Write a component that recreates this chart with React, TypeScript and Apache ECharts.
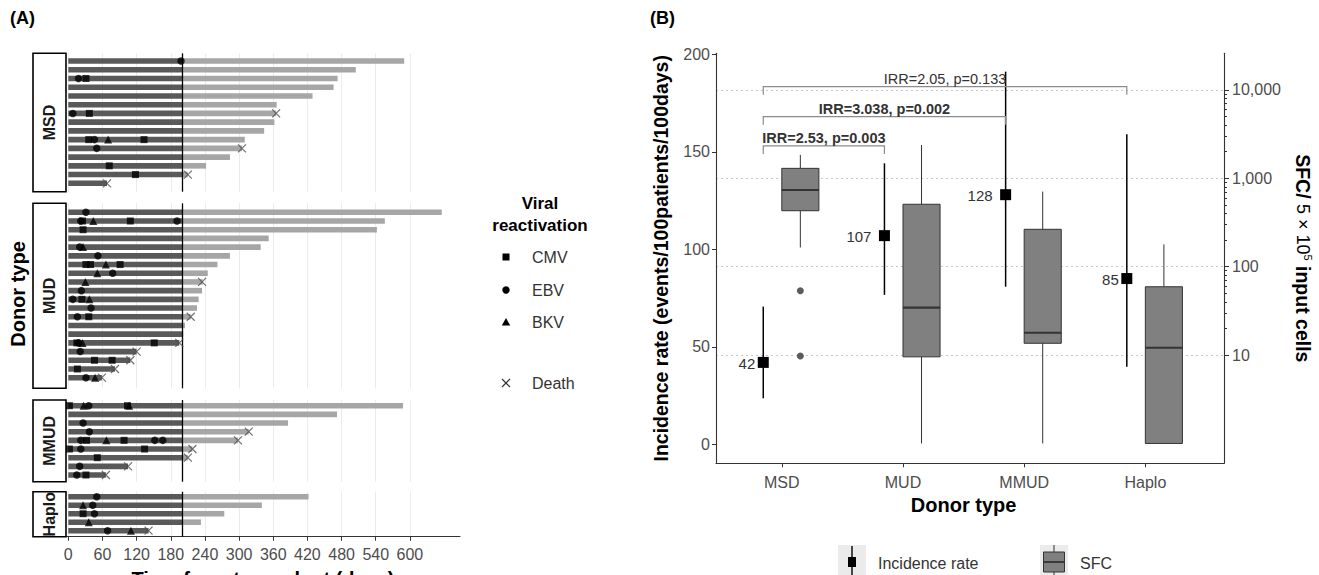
import React, { useEffect, useRef } from 'react';
import * as echarts from 'echarts';

const FONT = 'Arial, "Liberation Sans", Helvetica, sans-serif';

// ---------------- Panel A data ----------------
const donorTypes = ['MSD', 'MUD', 'MMUD', 'Haplo'];
const landmarkDay = 200;
const timeTicks = [0, 60, 120, 180, 240, 300, 360, 420, 480, 540, 600];

// follow-up (days) per patient, rows from top to bottom
const msdFollowUp = [590, 505, 473, 466, 429, 366, 365, 362, 344, 310, 305, 284, 242, 210, 68];
// events as [day, row]
const msdCMV = [[31, 2], [37, 6], [36, 9], [133, 9], [72, 12], [118, 13]];
const msdEBV = [[198, 0], [18, 2], [8, 6], [46, 9], [50, 10]];
const msdBKV = [[70, 9]];
const msdDeath = [[365, 6], [305, 10], [210, 13], [68, 14]];

const mudFollowUp = [656, 556, 542, 352, 338, 284, 262, 245, 236, 235, 229, 226, 215, 205, 202, 195, 120, 109, 82, 59];
const mudCMV = [[25, 1], [109, 1], [26, 2], [31, 6], [39, 6], [91, 6], [24, 10], [36, 12], [15, 15], [151, 15], [46, 17], [77, 17], [16, 18]];
const mudEBV = [[31, 0], [22, 1], [191, 1], [20, 4], [52, 5], [78, 7], [23, 9], [8, 10], [40, 11], [16, 12], [18, 15], [21, 16], [31, 19]];
const mudBKV = [[44, 1], [26, 4], [66, 6], [51, 7], [30, 8], [37, 10], [25, 15], [47, 19]];
const mudDeath = [[235, 8], [215, 12], [195, 15], [120, 16], [109, 17], [82, 18], [59, 19]];

const mmudFollowUp = [588, 472, 386, 317, 298, 218, 210, 105, 66];
const mmudCMV = [[2, 0], [104, 0], [32, 4], [98, 4], [2, 5], [134, 5], [51, 6], [31, 8]];
const mmudEBV = [[36, 0], [26, 2], [37, 3], [22, 4], [152, 4], [166, 4], [22, 5], [20, 7], [15, 8]];
const mmudBKV = [[27, 0], [107, 0], [67, 4]];
const mmudDeath = [[317, 3], [298, 4], [218, 5], [210, 6], [105, 7], [66, 8]];

const haploFollowUp = [422, 340, 274, 233, 141];
const haploCMV = [[26, 2]];
const haploEBV = [[50, 0], [43, 1], [46, 2], [69, 4]];
const haploBKV = [[26, 1], [36, 3], [110, 4]];
const haploDeath = [[141, 4]];

// ---------------- Panel B data ----------------
const incidenceRate = [42, 107, 128, 85];
const incidenceLow = [23.6, 76.6, 80.8, 39.8];
const incidenceHigh = [70.6, 144.1, 191.1, 159];

const sfcMin = [165, 1, 1, 1];
const sfcQ1 = [430, 9.55, 13.6, 1];
const sfcMedian = [738, 34.4, 17.9, 12.1];
const sfcQ3 = [1297, 509, 265, 59.3];
const sfcMax = [1841, 2384, 708, 179];
const sfcOutliers = [[0, 53.5], [0, 9.75]]; // [category, value]

const rateTicks = [0, 50, 100, 150, 200];
const sfcTicks = [10, 100, 1000, 10000];
const sfcMinorTicks = [20, 30, 40, 50, 60, 70, 80, 90, 200, 300, 400, 500, 600, 700, 800, 900, 2000, 3000, 4000, 5000, 6000, 7000, 8000, 9000];

const irrLabels = ['IRR=2.53, p=0.003', 'IRR=3.038, p=0.002', 'IRR=2.05, p=0.133'];
const irrFrom = [0, 0, 0];
const irrTo = [1, 2, 3];
const irrLevel = [153, 168, 183.4];
const irrBold = [true, true, false];

// ---------------- layout ----------------
const facetLayout = [
  { top: 53.3, bottom: 191.7, first: 61, last: 183.3 },
  { top: 203.3, bottom: 388.3, first: 212.3, last: 377.7 },
  { top: 400, bottom: 481.7, first: 405.7, last: 475 },
  { top: 491.7, bottom: 536.7, first: 496.7, last: 530.7 },
];
const H = 575;
const W = 1319;
const A_LEFT = 66;
const A_RIGHT = 460;
const B_LEFT = 716;
const B_RIGHT = 1224;
const B_TOP = 53.3;
const B_BOTTOM = 463.3;
const DODGE = 0.153;

const DARK = '#595959';
const LIGHT = '#a6a6a6';
const AXIS = '#333333';
const LABEL = '#4d4d4d';

export default function App() {
  const ref = useRef<HTMLDivElement>(null);

  useEffect(() => {
    if (!ref.current) return;
    const chart = echarts.init(ref.current, undefined, { renderer: 'svg' });

    const facets = [
      { label: 'MSD', followUp: msdFollowUp, cmv: msdCMV, ebv: msdEBV, bkv: msdBKV, death: msdDeath },
      { label: 'MUD', followUp: mudFollowUp, cmv: mudCMV, ebv: mudEBV, bkv: mudBKV, death: mudDeath },
      { label: 'MMUD', followUp: mmudFollowUp, cmv: mmudCMV, ebv: mmudEBV, bkv: mmudBKV, death: mmudDeath },
      { label: 'Haplo', followUp: haploFollowUp, cmv: haploCMV, ebv: haploEBV, bkv: haploBKV, death: haploDeath },
    ];

    const grids: any[] = [];
    const xAxes: any[] = [];
    const yAxes: any[] = [];
    const series: any[] = [];
    const graphics: any[] = [];

    facets.forEach((f, i) => {
      const L = facetLayout[i];
      const n = f.followUp.length;
      const sp = (L.last - L.first) / (n - 1);
      const isLast = i === facets.length - 1;
      grids.push({ left: A_LEFT, right: W - A_RIGHT, top: L.top, bottom: H - L.bottom, containLabel: false, outerBoundsMode: 'none' });
      xAxes.push({
        type: 'value', gridIndex: i, min: -4, max: 688,
        axisLine: { show: isLast, onZero: false, lineStyle: { color: AXIS, width: 1.1 } },
        axisTick: { show: isLast, customValues: timeTicks, length: 4, lineStyle: { color: AXIS } },
        axisLabel: { show: isLast, customValues: timeTicks, fontSize: 16, color: LABEL, margin: 10, fontFamily: FONT },
        splitLine: { show: true, lineStyle: { color: '#ebebeb', width: 1 } },
        name: isLast ? 'Time from transplant (days)' : '',
        nameLocation: 'middle', nameGap: 32, nameMoveOverlap: false,
        nameTextStyle: { fontSize: 20, fontWeight: 'bold', color: '#000', fontFamily: FONT },
      });
      yAxes.push({
        type: 'value', gridIndex: i, inverse: true,
        min: -(L.first - L.top) / sp, max: n - 1 + (L.bottom - L.last) / sp,
        show: false, splitLine: { show: false },
      });
      series.push({
        type: 'custom', xAxisIndex: i, yAxisIndex: i, silent: true,
        data: f.followUp.map((d, r) => [d, r]),
        encode: { x: 0, y: 1 },
        renderItem: (params: any, api: any) => {
          const end = api.value(0);
          const row = api.value(1);
          const p0 = api.coord([0, row]);
          const pL = api.coord([Math.min(end, landmarkDay), row]);
          const pE = api.coord([end, row]);
          const h = 5.6;
          const children: any[] = [
            { type: 'rect', shape: { x: p0[0], y: p0[1] - h / 2, width: pL[0] - p0[0], height: h }, style: { fill: DARK } },
          ];
          if (end > landmarkDay) {
            children.push({ type: 'rect', shape: { x: pL[0], y: p0[1] - h / 2, width: pE[0] - pL[0], height: h }, style: { fill: LIGHT } });
          }
          return { type: 'group', children };
        },
        markLine: {
          silent: true, symbol: ['none', 'none'], label: { show: false },
          lineStyle: { color: '#000', width: 1.3, type: 'solid' },
          data: [{ xAxis: landmarkDay }],
        },
        z: 2,
      });
      series.push({ type: 'scatter', xAxisIndex: i, yAxisIndex: i, silent: true, data: f.cmv, symbol: 'rect', symbolSize: 7, itemStyle: { color: '#000' }, z: 4 });
      series.push({ type: 'scatter', xAxisIndex: i, yAxisIndex: i, silent: true, data: f.ebv, symbol: 'circle', symbolSize: 7.5, itemStyle: { color: '#000' }, z: 4 });
      series.push({ type: 'scatter', xAxisIndex: i, yAxisIndex: i, silent: true, data: f.bkv, symbol: 'triangle', symbolSize: 8, itemStyle: { color: '#000' }, z: 4 });
      series.push({
        type: 'scatter', xAxisIndex: i, yAxisIndex: i, silent: true, data: f.death,
        symbol: 'path://M0,0L10,10M10,0L0,10', symbolSize: 8,
        itemStyle: { color: 'none', borderColor: '#4d4d4d', borderWidth: 1.2 }, z: 5,
      });
      // strip
      graphics.push({
        type: 'rect', shape: { x: 33, y: L.top, width: 33, height: L.bottom - L.top },
        style: { fill: '#fff', stroke: '#000', lineWidth: 1.6 }, z: 10,
      });
      graphics.push({
        type: 'text', x: 49.5, y: (L.top + L.bottom) / 2, rotation: Math.PI / 2,
        style: { text: f.label, align: 'center', verticalAlign: 'middle', fontSize: 16, fontWeight: 'bold', fill: '#1a1a1a', fontFamily: FONT }, z: 11,
      });
    });

    // ---------------- Panel B ----------------
    const gB = grids.length;
    grids.push({ left: B_LEFT, right: W - B_RIGHT, top: B_TOP, bottom: H - B_BOTTOM, containLabel: false, outerBoundsMode: 'none' });
    const catLeft = B_LEFT + (0.543 - 0.5) * 121.2;
    const catRight = catLeft + 4 * 121.2;
    grids.push({ left: catLeft, right: W - catRight, top: B_TOP, bottom: H - B_BOTTOM, containLabel: false, outerBoundsMode: 'none' });

    const xB = xAxes.length;
    xAxes.push({
      type: 'value', gridIndex: gB, min: -0.543, max: 3.649,
      axisLine: { show: true, onZero: false, lineStyle: { color: AXIS, width: 1.1 } },
      axisTick: { show: false }, axisLabel: { show: false }, splitLine: { show: false },
    });
    xAxes.push({
      type: 'category', gridIndex: gB + 1, data: donorTypes,
      axisLine: { show: false },
      axisTick: { show: true, alignWithLabel: true, length: 4, lineStyle: { color: AXIS } },
      axisLabel: { fontSize: 16, color: LABEL, margin: 11, fontFamily: FONT },
      name: 'Donor type', nameLocation: 'middle', nameGap: 31,
      nameTextStyle: { fontSize: 20, fontWeight: 'bold', color: '#000', fontFamily: FONT },
    });

    const yLeft = yAxes.length;
    yAxes.push({
      type: 'value', gridIndex: gB, min: -9.74, max: 200.5, position: 'left',
      axisLine: { show: true, onZero: false, lineStyle: { color: AXIS, width: 1.1 } },
      axisTick: { show: true, customValues: rateTicks, length: 4, lineStyle: { color: AXIS } },
      axisLabel: { customValues: rateTicks, fontSize: 16, color: LABEL, margin: 6, fontFamily: FONT },
      splitLine: { show: false },
      name: 'Incidence rate (events/100patients/100days)', nameLocation: 'middle', nameGap: 45, nameRotate: 90,
      nameTextStyle: { fontSize: 19.5, fontWeight: 'bold', color: '#000', fontFamily: FONT },
    });
    const yRight = yAxes.length;
    yAxes.push({
      type: 'log', logBase: 10, gridIndex: gB, min: 0.596, max: 26000, position: 'right',
      axisLine: { show: true, onZero: false, lineStyle: { color: AXIS, width: 1.1 } },
      axisTick: { show: true, customValues: sfcTicks, length: 5, lineStyle: { color: AXIS } },
      axisLabel: {
        customValues: sfcTicks, fontSize: 16, color: LABEL, margin: 8, fontFamily: FONT,
        formatter: (v: number) => Math.round(v).toLocaleString('en-US'),
      },
      splitLine: { show: true, lineStyle: { color: '#c8c8c8', width: 1.2, type: [2, 3] } },
      name: '{b|SFC/ }{n|5 × 10}{s|5}{b| input cells}', nameLocation: 'middle', nameGap: 69, nameRotate: -90,
      nameTextStyle: {
        fontFamily: FONT,
        rich: {
          b: { fontSize: 19.5, fontWeight: 'bold', color: '#000', fontFamily: FONT },
          n: { fontSize: 18, color: '#000', fontFamily: FONT },
          s: { fontSize: 11, color: '#000', verticalAlign: 'top', fontFamily: FONT },
        },
      },
    });
    yAxes.push({
      type: 'log', logBase: 10, gridIndex: gB, min: 0.596, max: 26000, position: 'right',
      axisLine: { show: false, onZero: false }, axisLabel: { show: false }, splitLine: { show: false },
      axisTick: { show: true, customValues: sfcMinorTicks, length: 3, lineStyle: { color: AXIS } },
    });
    yAxes.push({ type: 'value', gridIndex: gB + 1, show: false, splitLine: { show: false } });

    // incidence rate with CI
    series.push({
      type: 'custom', xAxisIndex: xB, yAxisIndex: yLeft, silent: true, z: 6,
      data: incidenceRate.map((v, i) => [i, v, incidenceLow[i], incidenceHigh[i]]),
      encode: { x: 0, y: 1 },
      renderItem: (params: any, api: any) => {
        const x = api.value(0) - DODGE;
        const v = api.value(1);
        const c = api.coord([x, v]);
        const lo = api.coord([x, api.value(2)]);
        const hi = api.coord([x, api.value(3)]);
        const txt = String(v);
        return {
          type: 'group', children: [
            { type: 'line', shape: { x1: c[0], y1: lo[1], x2: c[0], y2: hi[1] }, style: { stroke: '#000', lineWidth: 1.5 } },
            { type: 'rect', shape: { x: c[0] - 5.5, y: c[1] - 5.5, width: 11, height: 11 }, style: { fill: '#000' } },
            {
              type: 'text', x: c[0] - 8 - (txt.length - 2) * 5, y: c[1] + 1,
              style: { text: txt, align: 'right', verticalAlign: 'middle', fontSize: 15, fill: '#333', fontFamily: FONT },
            },
          ],
        };
      },
    });

    // SFC boxplots (log axis)
    series.push({
      type: 'custom', xAxisIndex: xB, yAxisIndex: yRight, silent: true, z: 5,
      data: sfcMedian.map((m, i) => [i, sfcMin[i], sfcQ1[i], m, sfcQ3[i], sfcMax[i]]),
      encode: { x: 0, y: [1, 2, 3, 4, 5] },
      renderItem: (params: any, api: any) => {
        const x = api.value(0) + DODGE;
        const pMin = api.coord([x, api.value(1)]);
        const pQ1 = api.coord([x, api.value(2)]);
        const pMed = api.coord([x, api.value(3)]);
        const pQ3 = api.coord([x, api.value(4)]);
        const pMax = api.coord([x, api.value(5)]);
        const half = api.coord([x + DODGE, api.value(3)])[0] - pMed[0];
        const cx = pMed[0];
        return {
          type: 'group', children: [
            { type: 'line', shape: { x1: cx, y1: pMax[1], x2: cx, y2: pQ3[1] }, style: { stroke: '#333', lineWidth: 1 } },
            { type: 'line', shape: { x1: cx, y1: pQ1[1], x2: cx, y2: pMin[1] }, style: { stroke: '#333', lineWidth: 1 } },
            { type: 'rect', shape: { x: cx - half, y: pQ3[1], width: 2 * half, height: pQ1[1] - pQ3[1] }, style: { fill: '#808080', stroke: '#333', lineWidth: 1 } },
            { type: 'line', shape: { x1: cx - half, y1: pMed[1], x2: cx + half, y2: pMed[1] }, style: { stroke: '#333', lineWidth: 2.2 } },
          ],
        };
      },
    });
    series.push({
      type: 'scatter', xAxisIndex: xB, yAxisIndex: yRight, silent: true, z: 6,
      data: sfcOutliers.map((o) => [o[0] + DODGE, o[1]]),
      symbol: 'circle', symbolSize: 7, itemStyle: { color: '#333' },
    });

    // IRR brackets
    series.push({
      type: 'custom', xAxisIndex: xB, yAxisIndex: yLeft, silent: true, z: 7,
      data: irrLabels.map((l, i) => [irrFrom[i], irrTo[i], irrLevel[i]]),
      encode: { x: [0, 1], y: 2 },
      renderItem: (params: any, api: any) => {
        const i = params.dataIndex;
        const a = api.coord([api.value(0) - DODGE, api.value(2)]);
        const b = api.coord([api.value(1) - DODGE, api.value(2)]);
        return {
          type: 'group', children: [
            {
              type: 'polyline',
              shape: { points: [[a[0], a[1] + 8], [a[0], a[1]], [b[0], b[1]], [b[0], b[1] + 8]] },
              style: { stroke: '#8c8c8c', lineWidth: 1.2, fill: 'none' },
            },
            {
              type: 'text', x: (a[0] + b[0]) / 2, y: a[1] - 8,
              style: {
                text: irrLabels[i], align: 'center', verticalAlign: 'middle', fontSize: 14.5,
                fontWeight: irrBold[i] ? 'bold' : 'normal', fill: '#333', fontFamily: FONT,
              },
            },
          ],
        };
      },
    });

    // ---------------- static texts & legends ----------------
    graphics.push(
      { type: 'text', x: 10, y: 18, style: { text: '(A)', fontSize: 18, fontWeight: 'bold', fill: '#000', verticalAlign: 'middle', fontFamily: FONT } },
      { type: 'text', x: 650, y: 18, style: { text: '(B)', fontSize: 18, fontWeight: 'bold', fill: '#000', verticalAlign: 'middle', fontFamily: FONT } },
      {
        type: 'text', x: 18, y: 294, rotation: Math.PI / 2,
        style: { text: 'Donor type', fontSize: 20, fontWeight: 'bold', fill: '#000', align: 'center', verticalAlign: 'middle', fontFamily: FONT },
      },
      { type: 'text', x: 540, y: 203, style: { text: 'Viral', fontSize: 17, fontWeight: 'bold', fill: '#000', align: 'center', verticalAlign: 'middle', fontFamily: FONT } },
      { type: 'text', x: 540, y: 225, style: { text: 'reactivation', fontSize: 17, fontWeight: 'bold', fill: '#000', align: 'center', verticalAlign: 'middle', fontFamily: FONT } },
      { type: 'rect', shape: { x: 502.5, y: 253.5, width: 7, height: 7 }, style: { fill: '#000' } },
      { type: 'circle', shape: { cx: 506, cy: 290, r: 3.7 }, style: { fill: '#000' } },
      { type: 'polygon', shape: { points: [[506, 318], [510.2, 325.5], [501.8, 325.5]] }, style: { fill: '#000' } },
      { type: 'line', shape: { x1: 502, y1: 379, x2: 510, y2: 387 }, style: { stroke: '#333', lineWidth: 1.2 } },
      { type: 'line', shape: { x1: 510, y1: 379, x2: 502, y2: 387 }, style: { stroke: '#333', lineWidth: 1.2 } },
      { type: 'text', x: 532, y: 257, style: { text: 'CMV', fontSize: 16, fill: '#333', verticalAlign: 'middle', fontFamily: FONT } },
      { type: 'text', x: 532, y: 290, style: { text: 'EBV', fontSize: 16, fill: '#333', verticalAlign: 'middle', fontFamily: FONT } },
      { type: 'text', x: 532, y: 322, style: { text: 'BKV', fontSize: 16, fill: '#333', verticalAlign: 'middle', fontFamily: FONT } },
      { type: 'text', x: 532, y: 383, style: { text: 'Death', fontSize: 16, fill: '#333', verticalAlign: 'middle', fontFamily: FONT } },
      // panel B legend
      { type: 'rect', shape: { x: 838, y: 545, width: 28, height: 36 }, style: { fill: '#ebebeb' } },
      { type: 'line', shape: { x1: 852, y1: 546, x2: 852, y2: 575 }, style: { stroke: '#000', lineWidth: 1.4 } },
      { type: 'rect', shape: { x: 848, y: 557, width: 8, height: 10 }, style: { fill: '#000' } },
      { type: 'text', x: 878, y: 563, style: { text: 'Incidence rate', fontSize: 16, fill: '#333', verticalAlign: 'middle', fontFamily: FONT } },
      { type: 'rect', shape: { x: 1040, y: 545, width: 28, height: 36 }, style: { fill: '#ebebeb' } },
      { type: 'line', shape: { x1: 1054, y1: 545, x2: 1054, y2: 575 }, style: { stroke: '#333', lineWidth: 1 } },
      { type: 'rect', shape: { x: 1043.5, y: 552, width: 21, height: 20 }, style: { fill: '#808080', stroke: '#333', lineWidth: 1 } },
      { type: 'line', shape: { x1: 1043.5, y1: 562, x2: 1064.5, y2: 562 }, style: { stroke: '#333', lineWidth: 1.8 } },
      { type: 'text', x: 1080, y: 563, style: { text: 'SFC', fontSize: 16, fill: '#333', verticalAlign: 'middle', fontFamily: FONT } },
    );

    chart.setOption({
      animation: false,
      textStyle: { fontFamily: FONT },
      grid: grids,
      xAxis: xAxes,
      yAxis: yAxes,
      series,
      graphic: { elements: graphics },
    });

    return () => chart.dispose();
  }, []);

  return <div ref={ref} style={{ position: 'absolute', left: 0, top: 0, width: W, height: H, background: '#fff' }} />;
}
